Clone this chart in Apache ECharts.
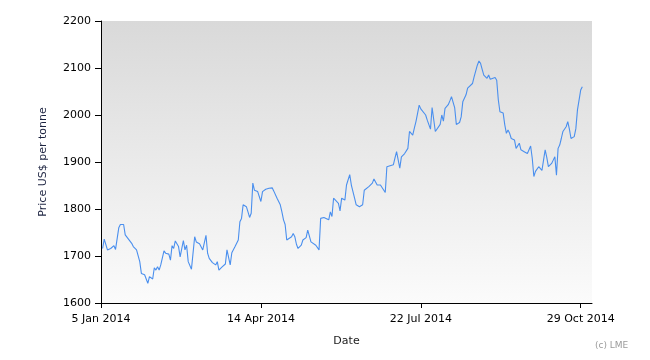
<!DOCTYPE html>
<html>
<head>
<meta charset="utf-8">
<script src="https://cdn.jsdelivr.net/npm/echarts@6/dist/echarts.min.js"></script>
<style>html,body{margin:0;padding:0;background:#fff}#c{width:650px;height:360px}</style>
</head>
<body>
<div id="c"></div>
<script>
// Dates of price observations (2014)
const dates = [
'2014-01-06','2014-01-07','2014-01-09','2014-01-11','2014-01-13','2014-01-14','2014-01-16','2014-01-17','2014-01-19','2014-01-20',
'2014-01-21','2014-01-22','2014-01-24','2014-01-25','2014-01-27','2014-01-28','2014-01-29','2014-01-30','2014-02-01','2014-02-02',
'2014-02-03','2014-02-04','2014-02-05','2014-02-06','2014-02-07','2014-02-08','2014-02-09','2014-02-10','2014-02-11','2014-02-13',
'2014-02-14','2014-02-16','2014-02-17','2014-02-18','2014-02-19','2014-02-20','2014-02-22','2014-02-23','2014-02-24','2014-02-25',
'2014-02-26','2014-02-27','2014-02-28','2014-03-02','2014-03-03','2014-03-04','2014-03-05','2014-03-07','2014-03-09','2014-03-10',
'2014-03-11','2014-03-12','2014-03-13','2014-03-15','2014-03-17','2014-03-18','2014-03-19','2014-03-21','2014-03-23','2014-03-24',
'2014-03-26','2014-03-27','2014-03-29','2014-03-31','2014-04-01','2014-04-02','2014-04-03','2014-04-05','2014-04-06','2014-04-07',
'2014-04-08','2014-04-09','2014-04-10','2014-04-12','2014-04-14','2014-04-15','2014-04-17','2014-04-19','2014-04-21','2014-04-22',
'2014-04-23','2014-04-24','2014-04-26','2014-04-27','2014-04-28','2014-04-29','2014-04-30','2014-05-01','2014-05-03','2014-05-04',
'2014-05-05','2014-05-06','2014-05-07','2014-05-09','2014-05-10','2014-05-12','2014-05-13','2014-05-15','2014-05-16','2014-05-18',
'2014-05-20','2014-05-21','2014-05-23','2014-05-24','2014-05-26','2014-05-27','2014-05-28','2014-05-29','2014-05-30','2014-06-01',
'2014-06-02','2014-06-03','2014-06-05','2014-06-06','2014-06-08','2014-06-09','2014-06-11','2014-06-12','2014-06-14','2014-06-16',
'2014-06-17','2014-06-18','2014-06-20','2014-06-22','2014-06-23','2014-06-25','2014-06-27','2014-06-28','2014-06-30','2014-07-01',
'2014-07-03','2014-07-05','2014-07-06','2014-07-07','2014-07-09','2014-07-10','2014-07-12','2014-07-14','2014-07-15','2014-07-17',
'2014-07-18','2014-07-19','2014-07-21','2014-07-22','2014-07-23','2014-07-25','2014-07-26','2014-07-28','2014-07-29','2014-07-31',
'2014-08-01','2014-08-03','2014-08-04','2014-08-05','2014-08-06','2014-08-08','2014-08-09','2014-08-10','2014-08-12','2014-08-13',
'2014-08-15','2014-08-16','2014-08-17','2014-08-19','2014-08-20','2014-08-21','2014-08-23','2014-08-24','2014-08-25','2014-08-26',
'2014-08-27','2014-08-28','2014-08-29','2014-08-30','2014-08-31','2014-09-01','2014-09-02','2014-09-03','2014-09-04','2014-09-06',
'2014-09-07','2014-09-08','2014-09-09','2014-09-10','2014-09-11','2014-09-12','2014-09-13','2014-09-14','2014-09-15','2014-09-16',
'2014-09-18','2014-09-19','2014-09-20','2014-09-21','2014-09-22','2014-09-23','2014-09-24','2014-09-26','2014-09-27','2014-09-28',
'2014-09-29','2014-09-30','2014-10-01','2014-10-03','2014-10-04','2014-10-05','2014-10-06','2014-10-07','2014-10-08','2014-10-09',
'2014-10-10','2014-10-11','2014-10-12','2014-10-13','2014-10-14','2014-10-15','2014-10-16','2014-10-17','2014-10-18','2014-10-20',
'2014-10-21','2014-10-22','2014-10-23','2014-10-24','2014-10-25','2014-10-26','2014-10-27','2014-10-28','2014-10-29','2014-10-30'
];
// Price, US$ per tonne
const prices = [
1716,1736,1713,1716,1722,1714,1760,1767,1767,1745,
1746,1736,1727,1720,1713,1711,1688,1663,1660,1660,
1642,1656,1656,1651,1675,1670,1677,1670,1681,1711,
1706,1704,1691,1722,1716,1732,1720,1698,1697,1733,
1713,1723,1688,1672,1674,1741,1730,1726,1713,1716,
1744,1706,1695,1686,1681,1688,1670,1677,1683,1713,
1681,1707,1720,1734,1773,1780,1809,1805,1794,1782,
1791,1855,1840,1837,1816,1837,1842,1844,1845,1838,
1840,1823,1809,1794,1777,1767,1734,1738,1741,1748,
1741,1725,1716,1723,1734,1739,1755,1730,1727,1723,
1713,1780,1782,1779,1777,1794,1784,1823,1823,1812,
1796,1823,1819,1851,1873,1851,1823,1809,1805,1809,
1840,1844,1848,1855,1864,1851,1851,1849,1835,1890,
1892,1894,1908,1922,1887,1911,1918,1929,1965,1957,
1972,1986,2021,2013,2014,2000,1989,1970,2016,1965,
1968,1980,2000,1987,2014,2022,2030,2039,2015,1980,
1984,1996,2028,2043,2057,2055,2067,2081,2085,2106,
2115,2110,2097,2085,2083,2078,2085,2076,2080,2080,
2074,2032,2007,2011,2004,1979,1961,1968,1961,1950,
1947,1929,1926,1940,1926,1929,1922,1918,1915,1934,
1908,1869,1880,1890,1894,1882,1904,1926,1910,1890,
1891,1897,1904,1911,1872,1929,1936,1950,1965,1975,
1986,1970,1950,1948,1954,1971,2011,2014,2053,2060
];
const tickDates = ['2014-01-05','2014-04-14','2014-07-22','2014-10-29'];
const tickLabels = ['5 Jan 2014','14 Apr 2014','22 Jul 2014','29 Oct 2014'];
const yTicks = [1600,1700,1800,1900,2000,2100,2200];

const DAY = 86400000;
const origin = Date.parse('2014-01-05');
const toDay = s => (Date.parse(s) - origin) / DAY;
const tickDays = tickDates.map(toDay);
const seriesData = dates.map((d, i) => [toDay(d), prices[i]]);

const chart = echarts.init(document.getElementById('c'), null, {renderer: 'canvas'});
const font = 'DejaVu Sans';
chart.setOption({
  animation: false,
  backgroundColor: '#ffffff',
  grid: {
    left: 101, top: 21, right: 58, bottom: 57,
    show: true, borderWidth: 0,
    backgroundColor: new echarts.graphic.LinearGradient(0, 0, 0, 1, [
      {offset: 0, color: '#d9d9d9'},
      {offset: 1, color: '#fbfbfb'}
    ])
  },
  xAxis: {
    type: 'value', min: 0, max: 304,
    name: 'Date', nameLocation: 'middle', nameGap: 33,
    nameTextStyle: {fontFamily: font, fontSize: 11, color: '#1a1a1a'},
    axisLine: {show: true, onZero: false, lineStyle: {color: '#000', width: 1}},
    axisTick: {show: true, length: 5, lineStyle: {color: '#000'}, customValues: tickDays},
    axisLabel: {
      fontFamily: font, fontSize: 11, color: '#000', margin: 11,
      customValues: tickDays,
      formatter: v => { const i = tickDays.indexOf(v); return i >= 0 ? tickLabels[i] : ''; }
    },
    splitLine: {show: false}
  },
  yAxis: {
    type: 'value', min: yTicks[0], max: yTicks[yTicks.length - 1], interval: 100,
    name: 'Price US$ per tonne', nameLocation: 'middle', nameGap: 52, nameRotate: 90,
    nameTextStyle: {fontFamily: font, fontSize: 11, color: '#1c2340'},
    axisLine: {show: true, lineStyle: {color: '#000', width: 1}},
    axisTick: {show: true, length: 6, lineStyle: {color: '#000'}},
    axisLabel: {fontFamily: font, fontSize: 11, color: '#000', margin: 10, formatter: v => String(v)},
    splitLine: {show: false}
  },
  graphic: [{
    type: 'text', left: 595, top: 341,
    style: {text: '(c) LME', fontFamily: font, fontSize: 9, fill: '#9a9a9a'}
  }],
  series: [{
    type: 'line', data: seriesData, showSymbol: false, symbol: 'none',
    lineStyle: {color: '#4a8fee', width: 1.1}
  }]
});
</script>
</body>
</html>
